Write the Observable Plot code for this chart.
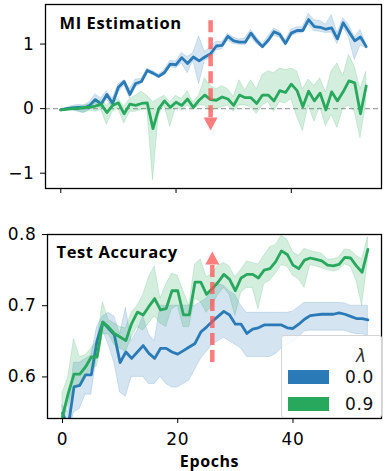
<!DOCTYPE html>
<html>
<head>
<meta charset="utf-8">
<script src="https://cdn.jsdelivr.net/npm/d3@7"></script>
<script src="https://cdn.jsdelivr.net/npm/@observablehq/plot@0.6"></script>
<style>
  body { margin: 0; background: white; }
  #wrap { position: relative; width: 388px; height: 471px; background: white; overflow: hidden; }
  #toppanel, #bottompanel { position: absolute; left: 0; }
  #toppanel { top: 0; }
  #bottompanel { top: 200px; }
  #legend { position: absolute; left: 281px; top: 335px; width: 101px; height: 83px; box-sizing: border-box;
    background: rgba(255,255,255,0.85); border: 1px solid #d4d4d4; border-radius: 3px;
    font-family: "DejaVu Sans", sans-serif; font-size: 17px; letter-spacing: 0.6px; color: #111; }
  #legend .t { position: absolute; left: 74px; top: 10px; font-style: italic; color: #333; }
  #legend .sw { position: absolute; left: 6px; width: 41px; height: 14px; }
  #legend .lb { position: absolute; left: 63px; line-height: 20px; }
</style>
</head>
<body>
<div id="wrap">
  <div id="toppanel"></div>
  <div id="bottompanel"></div>
  <div id="legend"></div>
</div>
<script>
// ---------------- data ----------------
const epochs = [0,1,2,3,4,5,6,7,8,9,10,11,12,13,14,15,16,17,18,19,20,21,22,23,24,25,26,27,28,29,30,31,32,33,34,35,36,37,38,39,40,41,42,43,44,45,46,47,48,49,50,51,52,53];

const seriesNames = ["0.0", "0.9"];
const seriesColors = ["#2a7ab8", "#27a85c"];
const panelTitles = ["MI Estimation", "Test Accuracy"];
const xLabel = "Epochs";
const xTicks = [0, 20, 40];
const miTicks = [-1, 0, 1];
const accTicks = [0.6, 0.7, 0.8];

// MI estimation, lambda = 0.0
const miBlue = [-0.02,0.0,0.01,0.02,0.01,0.05,0.14,0.07,0.22,0.08,0.33,0.42,0.22,0.39,0.42,0.59,0.55,0.50,0.56,0.69,0.68,0.79,0.70,0.80,0.74,0.80,0.85,0.97,0.98,1.12,1.05,1.03,1.03,1.17,1.05,0.96,1.06,1.19,1.15,1.01,1.17,1.21,1.21,1.38,1.27,1.26,1.23,1.25,1.08,1.33,1.19,1.05,1.11,0.96];
const miBlueLo = [-0.03,-0.01,-0.03,-0.05,-0.07,-0.02,0.07,0.0,0.14,0.02,0.25,0.36,0.16,0.33,0.38,0.56,0.52,0.47,0.52,0.64,0.62,0.70,0.55,0.74,0.38,0.74,0.78,0.90,0.92,1.05,1.0,0.99,0.98,1.10,1.0,0.93,1.01,1.13,1.10,0.97,1.12,1.16,1.17,1.30,1.20,1.19,1.17,1.18,1.0,1.26,1.10,0.75,0.98,0.93];
const miBlueHi = [-0.01,0.01,0.04,0.06,0.05,0.10,0.22,0.16,0.27,0.15,0.38,0.44,0.30,0.45,0.46,0.62,0.58,0.53,0.60,0.74,0.73,0.86,0.80,0.86,1.12,0.88,0.95,1.04,1.03,1.16,1.10,1.07,1.09,1.22,1.10,1.0,1.12,1.24,1.20,1.06,1.22,1.26,1.26,1.47,1.37,1.36,1.30,1.45,1.17,1.40,1.30,1.10,1.22,1.0];
// MI estimation, lambda = 0.9
const miGreen = [-0.02,-0.01,0.0,0.0,0.02,0.02,0.04,0.07,-0.06,0.05,0.09,-0.08,0.07,0.05,0.08,0.09,-0.31,0.0,0.12,0.02,0.10,0.05,0.15,0.02,0.13,0.21,0.14,0.13,0.18,0.15,0.05,0.21,0.17,0.17,0.08,0.21,0.21,0.12,0.28,0.25,0.38,0.28,0.03,0.27,0.12,0.24,-0.02,0.26,0.12,0.26,0.43,0.40,-0.08,0.35];
const miGreenLo = [-0.03,-0.02,-0.02,-0.04,-0.06,-0.03,-0.05,-0.02,-0.25,-0.05,0.0,-0.23,-0.05,-0.05,-0.02,0.0,-1.11,-0.10,0.05,-0.28,0.02,-0.03,0.05,-0.02,0.05,0.05,-0.05,0.0,0.02,0.05,-0.05,0.05,0.05,0.02,-0.08,0.05,0.10,-0.05,0.10,0.08,0.15,-0.12,-0.35,0.05,-0.20,0.02,-0.27,-0.10,-0.30,0.0,0.05,-0.05,-0.46,0.10];
const miGreenHi = [-0.01,0.0,0.02,0.03,0.05,0.06,0.10,0.13,0.05,0.12,0.15,0.03,0.15,0.20,0.26,0.20,0.10,0.15,0.20,0.10,0.20,0.15,0.27,0.10,0.20,0.47,0.35,0.30,0.35,0.30,0.18,0.44,0.28,0.44,0.30,0.52,0.58,0.55,0.62,0.60,0.62,0.58,0.30,0.45,0.35,0.47,0.25,0.58,0.70,0.50,0.83,0.65,0.30,0.57];

// Test accuracy, lambda = 0.0
const accBlue = [0.549,0.530,0.586,0.588,0.603,0.603,0.651,0.677,0.668,0.659,0.620,0.635,0.626,0.635,0.644,0.633,0.626,0.640,0.640,0.635,0.632,0.637,0.642,0.647,0.663,0.670,0.678,0.685,0.692,0.687,0.674,0.674,0.661,0.667,0.669,0.673,0.673,0.673,0.673,0.669,0.668,0.674,0.681,0.686,0.687,0.688,0.688,0.688,0.690,0.688,0.685,0.682,0.682,0.680];
const accBlueLo = [0.530,0.520,0.550,0.555,0.575,0.575,0.630,0.665,0.645,0.620,0.578,0.572,0.600,0.600,0.600,0.590,0.590,0.600,0.590,0.585,0.585,0.590,0.595,0.610,0.625,0.635,0.645,0.650,0.655,0.650,0.645,0.640,0.628,0.628,0.628,0.628,0.628,0.632,0.640,0.645,0.648,0.655,0.664,0.665,0.665,0.665,0.665,0.665,0.665,0.665,0.662,0.660,0.660,0.658];
const accBlueHi = [0.560,0.550,0.620,0.620,0.625,0.630,0.670,0.685,0.690,0.685,0.660,0.697,0.650,0.665,0.685,0.660,0.650,0.700,0.700,0.700,0.700,0.700,0.700,0.700,0.705,0.710,0.720,0.730,0.728,0.720,0.715,0.700,0.690,0.690,0.690,0.690,0.690,0.690,0.690,0.690,0.692,0.698,0.704,0.704,0.704,0.704,0.704,0.704,0.704,0.703,0.700,0.700,0.700,0.700];
// Test accuracy, lambda = 0.9
const accGreen = [0.544,0.577,0.604,0.604,0.614,0.628,0.628,0.677,0.670,0.661,0.656,0.651,0.675,0.691,0.687,0.699,0.710,0.694,0.696,0.721,0.721,0.687,0.687,0.733,0.733,0.716,0.724,0.733,0.744,0.737,0.721,0.739,0.744,0.744,0.739,0.750,0.752,0.762,0.777,0.772,0.757,0.752,0.764,0.767,0.765,0.763,0.757,0.756,0.758,0.768,0.767,0.756,0.747,0.779];
const accGreenLo = [0.535,0.560,0.585,0.590,0.600,0.610,0.615,0.660,0.660,0.645,0.640,0.635,0.655,0.670,0.665,0.675,0.685,0.675,0.670,0.695,0.700,0.670,0.670,0.710,0.705,0.690,0.700,0.715,0.725,0.715,0.686,0.718,0.725,0.725,0.695,0.730,0.735,0.745,0.757,0.755,0.742,0.737,0.725,0.757,0.755,0.753,0.750,0.748,0.750,0.758,0.755,0.735,0.700,0.763];
const accGreenHi = [0.577,0.600,0.653,0.628,0.630,0.640,0.650,0.705,0.680,0.675,0.670,0.668,0.690,0.700,0.715,0.740,0.755,0.710,0.730,0.745,0.742,0.720,0.700,0.758,0.765,0.740,0.745,0.756,0.760,0.755,0.740,0.750,0.762,0.760,0.758,0.770,0.782,0.785,0.798,0.793,0.775,0.770,0.780,0.777,0.775,0.773,0.765,0.765,0.768,0.779,0.778,0.770,0.765,0.796];

// annotation arrows (data units): epoch, shaft start, shaft end, tip
const arrowEpoch = 26;
const miArrow = [1.37, -0.14, -0.34];
const accArrow = [0.621, 0.758, 0.776];
const arrowColor = "#ff5252";

// ---------------- helpers ----------------
const rows = (m, lo, hi) => epochs.map((e, i) => ({e, m: m[i], lo: lo[i], hi: hi[i]}));
const miData = [rows(miBlue, miBlueLo, miBlueHi), rows(miGreen, miGreenLo, miGreenHi)];
const accData = [rows(accBlue, accBlueLo, accBlueHi), rows(accGreen, accGreenLo, accGreenHi)];

const headDown = {draw(ctx) { ctx.moveTo(-7, -13); ctx.lineTo(7, -13); ctx.lineTo(0, 0); ctx.closePath(); }};
const headUp = {draw(ctx) { ctx.moveTo(-7, 13); ctx.lineTo(7, 13); ctx.lineTo(0, 0); ctx.closePath(); }};

function seriesMarks(data) {
  const marks = [];
  data.forEach((d, i) => {
    marks.push(Plot.areaY(d, {x: "e", y1: "lo", y2: "hi", fill: seriesColors[i], fillOpacity: 0.2,
      stroke: seriesColors[i], strokeOpacity: 0.18, strokeWidth: 1, clip: true}));
    marks.push(Plot.line(d, {x: "e", y: "m", stroke: seriesColors[i], strokeWidth: 2.8, clip: true}));
  });
  return marks;
}

function arrowMarks(a, head) {
  return [
    Plot.link([a], {x1: () => arrowEpoch, x2: () => arrowEpoch, y1: d => d[0], y2: d => d[1],
      stroke: arrowColor, strokeOpacity: 0.75, strokeWidth: 4.5, strokeDasharray: "12,5"}),
    Plot.dot([a], {x: () => arrowEpoch, y: d => d[2], symbol: head, r: 5, fill: arrowColor,
      fillOpacity: 0.75, stroke: "none"})
  ];
}

const baseStyle = {background: "white", fontFamily: "DejaVu Sans, sans-serif", fontSize: "17px",
  letterSpacing: "0.6px", color: "black", overflow: "visible"};
const titleOpts = {textAnchor: "start", lineAnchor: "top", fontWeight: "bold", fontSize: 16.5,
  fontFamily: "Open Sans, sans-serif", fill: "black"};
const fmtMinus = d => d < 0 ? "\u2212" + Math.abs(d) : String(d);

// ---------------- top panel ----------------
const topChart = Plot.plot({
  width: 388, height: 200,
  marginLeft: 45, marginRight: 7, marginTop: 4, marginBottom: 12,
  style: baseStyle,
  x: {domain: [-2.65, 55.65], ticks: xTicks, tickSize: 5, tickFormat: () => "", label: null},
  y: {domain: [-1.237, 1.613], ticks: miTicks, tickSize: 5, tickPadding: 6, tickFormat: fmtMinus, label: null},
  marks: [
    Plot.ruleY([0], {stroke: "#a3a3a3", strokeWidth: 1.2, strokeDasharray: "5,3"}),
    ...seriesMarks(miData),
    ...arrowMarks(miArrow, headDown),
    Plot.text([panelTitles[0]], {...titleOpts, text: d => d, frameAnchor: "top-left", dx: 14, dy: 12.5}),
    Plot.frame({stroke: "black", strokeWidth: 1.3})
  ]
});
document.getElementById("toppanel").appendChild(topChart);

// ---------------- bottom panel ----------------
const bottomChart = Plot.plot({
  width: 388, height: 271,
  marginLeft: 47, marginRight: 7, marginTop: 34, marginBottom: 53,
  style: baseStyle,
  x: {domain: [-2.6, 55.36], ticks: xTicks, tickSize: 5, tickPadding: 9, tickFormat: d => String(d), label: null},
  y: {domain: [0.5416, 0.8], ticks: accTicks, tickSize: 5, tickPadding: 6, tickFormat: d3.format(".1f"), label: null},
  marks: [
    ...seriesMarks(accData),
    ...arrowMarks(accArrow, headUp),
    Plot.text([panelTitles[1]], {...titleOpts, text: d => d, frameAnchor: "top-left", dx: 9, dy: 11.5}),
    Plot.text([xLabel], {text: d => d, frameAnchor: "bottom", dx: -5, dy: 37.5, lineAnchor: "top",
      fontWeight: "bold", fontSize: 16, fontFamily: "Open Sans, sans-serif", fill: "black", letterSpacing: "0px"}),
    Plot.frame({stroke: "black", strokeWidth: 1.3})
  ]
});
document.getElementById("bottompanel").appendChild(bottomChart);

// ---------------- legend ----------------
const legend = document.getElementById("legend");
legend.innerHTML = `<span class="t">\u03bb</span>` + seriesNames.map((n, i) =>
  `<div class="sw" style="top:${34 + i * 27}px;background:${seriesColors[i]}"></div>` +
  `<div class="lb" style="top:${31 + i * 27}px">${n}</div>`).join("");
</script>
</body>
</html>
